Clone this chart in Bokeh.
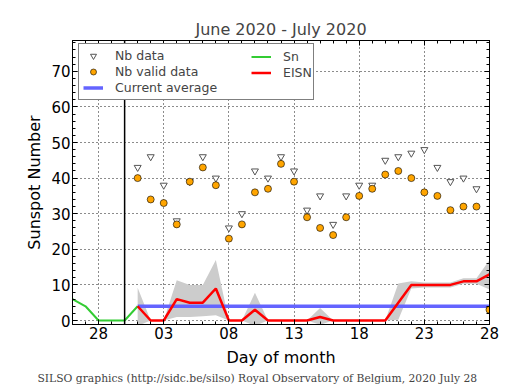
from bokeh.plotting import figure
from bokeh.models import (Range1d, LinearAxis, FixedTicker, Span, Legend, LegendItem,
                          Title, ColumnDataSource)
from bokeh.embed import file_html
from bokeh.resources import INLINE

# ---------------- data ----------------
june_length = 30                       # x = day number counted from 1 June
sn_day = [26, 27, 28, 29, 30, 31]      # 26 June .. 1 July
sn = [6, 4, 0, 0, 0, 4]

july_day = [1, 2, 3, 4, 5, 6, 7, 8, 9, 10, 11, 12, 13, 14,
            15, 16, 17, 18, 19, 20, 21, 22, 23, 24, 25, 26, 27, 28]
nb_data = [43, 46, 38, 28, 39, 46, 40, 26, 30, 42, 40, 46, 42, 31,
           35, 27, 35, 38, 38, 45, 46, 47, 48, 43, 39, 40, 37, 3]
nb_valid = [40, 34, 33, 27, 39, 43, 38, 23, 27, 36, 37, 44, 39, 29,
            26, 24, 29, 35, 37, 41, 42, 40, 36, 35, 31, 32, 32, 3]
eisn = [4, 0, 0, 6, 5, 5, 9, 0, 0, 3, 0, 0, 0, 0,
        1, 0, 0, 0, 0, 0, 5, 10, 10, 10, 10, 11, 11, 13]
eisn_hi = [9.2, 0, 0, 11.3, 10, 10, 17, 0, 0, 7.8, 0, 0, 0, 0,
           3.5, 0, 0, 0, 0, 0, 10.4, 11, 10.7, 10.7, 10.7, 11.9, 11.9, 17]
eisn_lo = [-1.5, 0, 0, 1, 1, 1.2, 1.5, 0, 0, -1.5, 0, 0, 0, 0,
           -1.2, 0, 0, 0, 0, 0, 0.2, 9, 9.3, 9.3, 9.3, 10.3, 10.3, 8.7]
current_average = 4.0

x_tick_pos = [28, 33, 38, 43, 48, 53, 58]
x_tick_labels = ["28", "03", "08", "13", "18", "23", "28"]
y_tick_pos = [0, 10, 20, 30, 40, 50, 60, 70]

title_text = "June 2020 - July 2020"
footer_text = "SILSO graphics (http://sidc.be/silso) Royal Observatory of Belgium, 2020 July 28"

# ---------------- sources ----------------
july_x = [june_length + d for d in july_day]
src = ColumnDataSource(dict(x=july_x, nb=nb_data, nbv=nb_valid, eisn=eisn,
                            hi=eisn_hi, lo=eisn_lo,
                            avg=[current_average] * len(july_x)))
src_sn = ColumnDataSource(dict(x=sn_day, sn=sn))

FONT = "DejaVu Sans"

p = figure(frame_width=417, frame_height=284,
           x_range=Range1d(26, 58), y_range=Range1d(-1.12, 78.65),
           output_backend="svg", toolbar_location=None,
           min_border_left=72, min_border_right=20, min_border_top=40,
           min_border_bottom=10)
p.background_fill_color = "white"
p.border_fill_color = "white"
p.outline_line_color = "black"
p.outline_line_width = 1

# title
p.title.text = title_text
p.title.align = "center"
p.title.text_font = FONT
p.title.text_font_size = "16px"
p.title.text_font_style = "normal"
p.title.standoff = 3

xticker = FixedTicker(ticks=x_tick_pos, minor_ticks=list(range(26, 59)))
yticker = FixedTicker(ticks=y_tick_pos, minor_ticks=list(range(0, 80, 2)))

def style_axis(ax):
    ax.axis_line_color = "black"
    ax.major_tick_line_color = "black"
    ax.minor_tick_line_color = "black"
    ax.major_tick_in = 5
    ax.major_tick_out = 0
    ax.minor_tick_in = 3
    ax.minor_tick_out = 0
    ax.major_label_text_font = FONT
    ax.major_label_text_font_size = "15px"
    ax.major_label_text_color = "black"
    ax.axis_label_text_font = FONT
    ax.axis_label_text_font_size = "16px"
    ax.axis_label_text_font_style = "normal"
    ax.axis_label_text_color = "black"

xa = p.xaxis[0]
xa.ticker = xticker
xa.major_label_overrides = {t: l for t, l in zip(x_tick_pos, x_tick_labels)}
xa.axis_label = "Day of month"
style_axis(xa)
xa.major_label_standoff = 2
xa.axis_label_standoff = 6

ya = p.yaxis[0]
ya.ticker = yticker
ya.axis_label = "Sunspot Number"
style_axis(ya)
ya.major_label_standoff = 2
ya.axis_label_standoff = 4

top = LinearAxis(ticker=xticker, major_label_overrides={t: "" for t in x_tick_pos})
style_axis(top)
top.major_label_standoff = 0
right = LinearAxis(ticker=yticker, major_label_overrides={t: "" for t in y_tick_pos})
style_axis(right)
right.major_label_standoff = 0
p.add_layout(top, "above")
p.add_layout(right, "right")

for g, tk in ((p.xgrid[0], xticker), (p.ygrid[0], yticker)):
    g.ticker = tk
    g.grid_line_color = "black"
    g.grid_line_dash = "1 3"
    g.grid_line_width = 1
    g.grid_line_alpha = 0.9

# footer
p.add_layout(Title(text=footer_text, align="left", offset=-35,
                   text_font="DejaVu Serif", text_font_size="10.75px",
                   text_font_style="normal", standoff=0), "below")

# month boundary
p.add_layout(Span(location=june_length, dimension="height",
                  line_color="black", line_width=1.5))

# ---------------- glyphs ----------------
p.varea(x="x", y1="lo", y2="hi", source=src, fill_color="#cccccc")
r_avg = p.line("x", "avg", source=src, line_color="#6464ff", line_width=3.5)
r_sn = p.line("x", "sn", source=src_sn, line_color="#33cc33", line_width=2)
r_eisn = p.line("x", "eisn", source=src, line_color="#ff0000", line_width=2.5)
r_nb = p.scatter("x", "nb", source=src, marker="inverted_triangle", size=7,
                 fill_color="white", line_color="#555555", line_width=1)
r_nbv = p.scatter("x", "nbv", source=src, marker="circle", size=7,
                  fill_color="#ffa500", line_color="black", line_width=0.6)

leg_common = dict(label_text_font=FONT, label_text_font_size="12.5px",
                  glyph_width=20, glyph_height=15, label_height=15,
                  label_standoff=12, spacing=1, padding=4, margin=0)
legA = Legend(items=[LegendItem(label="Nb data", renderers=[r_nb]),
                     LegendItem(label="Nb valid data", renderers=[r_nbv]),
                     LegendItem(label="Current average", renderers=[r_avg])],
              location=(6, 224), label_width=194,
              border_line_color="black", border_line_width=1,
              background_fill_color="white", background_fill_alpha=1,
              **leg_common)
legB = Legend(items=[LegendItem(label="Sn", renderers=[r_sn]),
                     LegendItem(label="EISN", renderers=[r_eisn])],
              location=(175, 240),
              border_line_alpha=0, background_fill_alpha=0,
              **leg_common)
p.add_layout(legA)
p.add_layout(legB)

open("out.html", "w").write(file_html(p, INLINE))
